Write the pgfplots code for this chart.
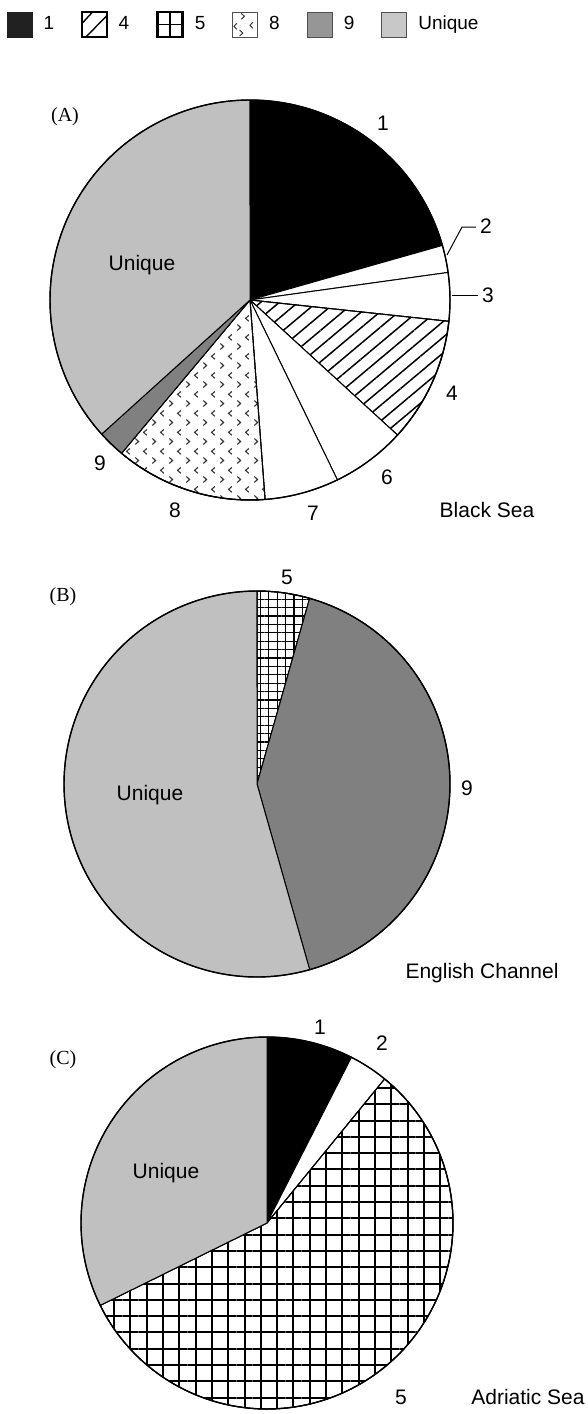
\documentclass[border=0pt]{standalone}
\usepackage{pgfplots}
\pgfplotsset{compat=1.18}
\usepackage{fontspec}
\setmainfont{Liberation Sans}
\newfontfamily\panelfont{Liberation Serif}
\usetikzlibrary{patterns,patterns.meta}

\definecolor{haplonine}{HTML}{808080}
\definecolor{uniquegray}{HTML}{C0C0C0}
\definecolor{legnine}{HTML}{969696}
\definecolor{leguniq}{HTML}{C8C8C8}
\definecolor{chev}{HTML}{3A3A3A}
\definecolor{legedge}{HTML}{505050}

% staggered rows of small > and < marks
\pgfdeclarepatternformonly{chevrons}{\pgfqpoint{0pt}{0pt}}{\pgfqpoint{8.35pt}{9.3pt}}{\pgfqpoint{8.35pt}{9.3pt}}{%
  \pgfsetlinewidth{0.6pt}%
  \pgfpathmoveto{\pgfqpoint{1.2pt}{3.8pt}}%
  \pgfpathlineto{\pgfqpoint{2.8pt}{2.3pt}}%
  \pgfpathlineto{\pgfqpoint{1.2pt}{0.8pt}}%
  \pgfpathmoveto{\pgfqpoint{7.0pt}{8.45pt}}%
  \pgfpathlineto{\pgfqpoint{5.4pt}{6.95pt}}%
  \pgfpathlineto{\pgfqpoint{7.0pt}{5.45pt}}%
  \pgfusepath{stroke}%
}

% one wedge: centre x, centre y, radius, start (%), end (%), style
% angles run clockwise from 12 o'clock
\newcommand{\pieslice}[6]{%
  \addplot[#6, domain=3.6*#4:3.6*#5, samples=120, variable=\t, forget plot]
    ({#1+#3*sin(\t)}, {#2-#3*cos(\t)}) -- (axis cs:#1,#2) -- cycle;
}
% outline of a whole pie
\newcommand{\pierim}[3]{%
  \addplot[draw=black, line width=0.7pt, domain=0:360, samples=241, variable=\t, forget plot]
    ({#1+#3*sin(\t)}, {#2-#3*cos(\t)}) -- cycle;
}

\newcommand{\lbl}{\fontsize{10.5}{12}\selectfont}
\newcommand{\plbl}{\panelfont\fontsize{10}{12}\selectfont}

\pgfplotsset{
  wedge/.style={draw=black, line width=0.5pt},
  h1/.style={wedge, fill=black},
  hW/.style={wedge, fill=white},
  h4/.style={wedge, fill=white, postaction={pattern={Lines[angle=40, distance=6pt, line width=0.75pt]}}},
  h5b/.style={wedge, fill=white, postaction={pattern={Hatch[distance=4.2pt, line width=0.65pt]}}},
  h5c/.style={wedge, fill=white, postaction={pattern={Hatch[distance=8.15pt, line width=1pt]}}},
  h8/.style={wedge, fill=white, postaction={pattern=chevrons, pattern color=chev}},
  h9/.style={wedge, fill=haplonine},
  hU/.style={wedge, fill=uniquegray},
}

\begin{document}
\begin{tikzpicture}
\useasboundingbox (0,0) rectangle (294pt,707pt);
\begin{axis}[
  at={(0pt,0pt)}, anchor=south west,
  scale only axis, width=294pt, height=707pt,
  xmin=0, xmax=588, ymin=0, ymax=1414, y dir=reverse,
  hide axis, clip=false,
  legend columns=6,
  legend cell align=left,
  legend style={at={(axis cs:6.7,10.7)}, anchor=north west,
    draw=none, fill=none, inner sep=0pt, outer sep=0pt,
    font=\fontsize{9.5}{11}\selectfont,
    nodes={inner sep=0pt}, column sep=0pt,
    /tikz/every odd column/.append style={column sep=5.5pt},
    /tikz/every even column/.append style={column sep=13.5pt}},
]

% ---- legend ----
\addlegendimage{legend image code/.code={
  \draw[fill=black!87, draw=black!87, line width=0.5pt] (0pt,-6.25pt) rectangle (12.5pt,6.25pt);}}
\addlegendentry{1}
\addlegendimage{legend image code/.code={
  \draw[fill=white, draw=black, line width=0.6pt] (0pt,-6.25pt) rectangle (12.5pt,6.25pt);
  \draw[line width=0.7pt] (2pt,-6.25pt) -- (12.5pt,4.5pt);
  \draw[line width=0.7pt] (0pt,0.5pt) -- (5.3pt,6.25pt);}}
\addlegendentry{4}
\addlegendimage{legend image code/.code={
  \draw[fill=white, draw=black, line width=1.3pt] (0pt,-6.25pt) rectangle (12.5pt,6.25pt);
  \draw[line width=0.8pt] (6.25pt,-6.25pt) -- (6.25pt,6.25pt) (0pt,0pt) -- (12.5pt,0pt);}}
\addlegendentry{5}
\addlegendimage{legend image code/.code={
  \draw[fill=white, draw=legedge, line width=0.4pt] (0pt,-6.25pt) rectangle (12.5pt,6.25pt);
  \draw[chev, line width=0.5pt]
    (4.2pt,5.6pt) -- (5.8pt,4.1pt) -- (4.2pt,2.6pt)
    (2pt,0.6pt) -- (0.6pt,-0.9pt) -- (2pt,-2.4pt)
    (10pt,1.1pt) -- (8.6pt,-0.4pt) -- (10pt,-1.9pt)
    (3.4pt,-2.8pt) -- (5pt,-4.3pt) -- (3.4pt,-5.8pt);}}
\addlegendentry{8}
\addlegendimage{legend image code/.code={
  \draw[fill=legnine, draw=legedge, line width=0.5pt] (0pt,-6.25pt) rectangle (12.5pt,6.25pt);}}
\addlegendentry{9}
\addlegendimage{legend image code/.code={
  \draw[fill=leguniq, draw=legedge, line width=0.5pt] (0pt,-6.25pt) rectangle (12.5pt,6.25pt);}}
\addlegendentry{Unique}

% ---- (A) Black Sea ----
\pieslice{250}{300}{200}{0}{20.6}{h1}
\pieslice{250}{300}{200}{20.6}{22.8}{hW}
\pieslice{250}{300}{200}{22.8}{26.7}{hW}
\pieslice{250}{300}{200}{26.7}{36.8}{h4}
\pieslice{250}{300}{200}{36.8}{42.8}{hW}
\pieslice{250}{300}{200}{42.8}{48.8}{hW}
\pieslice{250}{300}{200}{48.8}{61.1}{h8}
\pieslice{250}{300}{200}{61.1}{63.3}{h9}
\pieslice{250}{300}{200}{63.3}{100}{hU}
\pierim{250}{300}{200}
\addplot[black, line width=0.5pt, forget plot] coordinates {(447,255) (462,227) (476,227)};
\addplot[black, line width=0.5pt, forget plot] coordinates {(452,295) (478,295)};

\node[font=\plbl] at (65,117) {(A)};
\node[font=\lbl] at (383,123) {1};
\node[font=\lbl] at (486,226) {2};
\node[font=\lbl] at (488,295) {3};
\node[font=\lbl] at (452,393) {4};
\node[font=\lbl] at (387,477) {6};
\node[font=\lbl] at (313,513) {7};
\node[font=\lbl] at (175,510) {8};
\node[font=\lbl] at (100,463) {9};
\node[font=\lbl] at (142,265) {Unique};
\node[font=\lbl] at (487,510) {Black Sea};

% ---- (B) English Channel ----
\pieslice{257}{784}{193}{0}{4.4}{h5b}
\pieslice{257}{784}{193}{4.4}{45.6}{h9}
\pieslice{257}{784}{193}{45.6}{100}{hU}
\pierim{257}{784}{193}

\node[font=\plbl] at (63,597) {(B)};
\node[font=\lbl] at (287,577) {5};
\node[font=\lbl] at (467,788) {9};
\node[font=\lbl] at (150,795) {Unique};
\node[font=\lbl] at (482,973) {English Channel};

% ---- (C) Adriatic Sea ----
\pieslice{267}{1223}{186}{0}{7.5}{h1}
\pieslice{267}{1223}{186}{7.5}{10.9}{hW}
\pieslice{267}{1223}{186}{10.9}{67.7}{h5c}
\pieslice{267}{1223}{186}{67.7}{100}{hU}
\pierim{267}{1223}{186}

\node[font=\plbl] at (63,1060) {(C)};
\node[font=\lbl] at (320,1027) {1};
\node[font=\lbl] at (382,1043) {2};
\node[font=\lbl] at (166,1173) {Unique};
\node[font=\lbl] at (401,1397) {5};
\node[font=\lbl] at (528,1397) {Adriatic Sea};

\end{axis}
\end{tikzpicture}
\end{document}
